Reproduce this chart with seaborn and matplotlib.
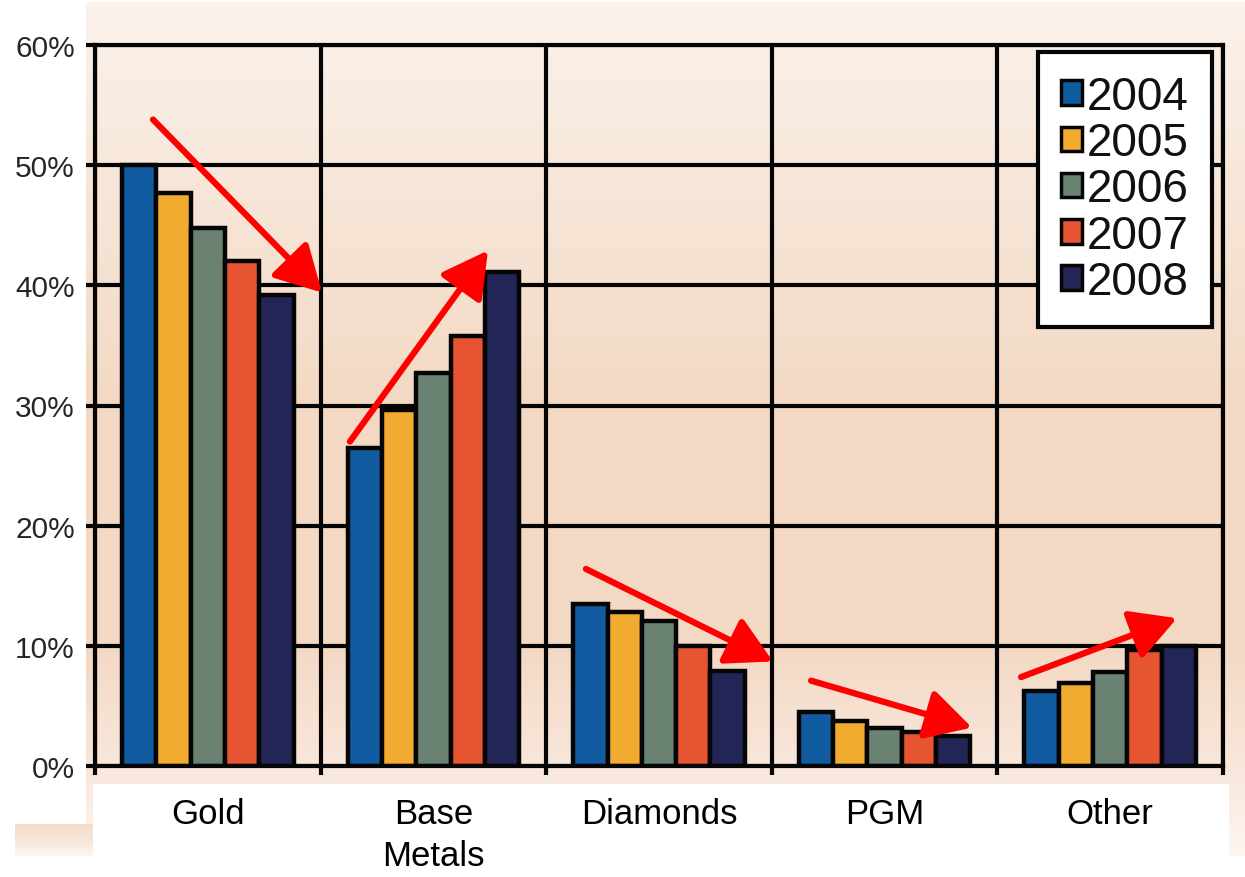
import numpy as np
import pandas as pd
import matplotlib
matplotlib.use("Agg")
import matplotlib.pyplot as plt
from matplotlib.colors import LinearSegmentedColormap
from matplotlib.patches import Rectangle
import seaborn as sns

# ---- data -------------------------------------------------------------
categories = ["Gold", "Base\nMetals", "Diamonds", "PGM", "Other"]
years = ["2004", "2005", "2006", "2007", "2008"]
share_2004 = [50.0, 26.5, 13.5, 4.5, 6.25]
share_2005 = [47.7, 29.6, 12.8, 3.75, 6.9]
share_2006 = [44.8, 32.7, 12.1, 3.2, 7.8]
share_2007 = [42.0, 35.8, 10.0, 2.8, 9.65]
share_2008 = [39.2, 41.1, 7.9, 2.5, 10.0]
y_ticks = [0, 10, 20, 30, 40, 50, 60]
y_tick_labels = ["0%", "10%", "20%", "30%", "40%", "50%", "60%"]

year_colors = ["#115BA0", "#F0AB30", "#6A8272", "#E65432", "#222556"]

# trend arrows per category: (x_start, y_start, x_end, y_end) in data units
trend_arrows = [
    (-0.243, 53.8, 0.506, 39.4),
    (0.630, 27.0, 1.242, 42.9),
    (1.676, 16.4, 2.505, 8.7),
    (2.674, 7.1, 3.387, 3.2),
    (3.605, 7.4, 4.296, 12.3),
]

series = [share_2004, share_2005, share_2006, share_2007, share_2008]
df = pd.DataFrame(
    [(c, y, v) for y, vals in zip(years, series) for c, v in zip(categories, vals)],
    columns=["category", "year", "share"],
)

# ---- figure ------------------------------------------------------------
sns.set_theme(style="white")
plt.rcParams["font.family"] = ["Liberation Sans", "DejaVu Sans"]

W, H = 1245, 878
fig = plt.figure(figsize=(W / 100, H / 100), dpi=100, facecolor="white")

# background panel with a soft peach vertical gradient
bg = fig.add_axes([0, 0, 1, 1], zorder=-5)
bg.set_xlim(0, W)
bg.set_ylim(H, 0)
bg.axis("off")
grad_cmap = LinearSegmentedColormap.from_list(
    "peach",
    [(0.0, "#FBF2EB"), (0.45, "#F3DAC5"), (0.75, "#F3D8C3"),
     (0.91, "#F9E8DD"), (1.0, "#FDF6F2")],
)
grad = np.linspace(0, 1, 256).reshape(-1, 1)
bg.imshow(grad, cmap=grad_cmap, aspect="auto", extent=(86, W, 857, 3),
          interpolation="bilinear")
bg.add_patch(Rectangle((93, 785), 1136, 100, facecolor="white", edgecolor="none"))
bg.imshow(grad[200:], cmap=grad_cmap, aspect="auto", extent=(15, 93, 857, 825),
          vmin=0, vmax=1, interpolation="bilinear")

ax = fig.add_axes([95 / W, 1 - 767 / H, (1223 - 95) / W, (767 - 46) / H])
ax.set_facecolor("none")
ax.set_axisbelow(True)

sns.barplot(
    data=df, x="category", y="share", hue="year", order=categories,
    hue_order=years, palette=year_colors, width=0.76, gap=0,
    edgecolor="#050505", linewidth=3.2, saturation=1, ax=ax, errorbar=None,
)

ax.set_xlim(-0.5, len(categories) - 0.5)
ax.set_ylim(0, 60)
ax.set_xlabel("")
ax.set_ylabel("")

# gridlines at category boundaries and at each 10%
lw = 3.0
ax.set_xticks(np.arange(len(categories)))
ax.set_xticklabels(categories, fontsize=25, linespacing=1.37)
ax.set_xticks(np.arange(-0.5, len(categories), 1.0), minor=True)
ax.set_yticks(y_ticks)
ax.set_yticklabels(y_tick_labels, fontsize=21.5)
ax.tick_params(axis="x", which="major", length=0, pad=22, colors="black")
ax.tick_params(axis="x", which="minor", length=6.5, width=lw, direction="out",
               color="#050505", bottom=True)
ax.tick_params(axis="y", which="major", length=6.5, width=lw, direction="out",
               color="#050505", pad=8, left=True)
ax.grid(True, axis="x", which="minor", color="#050505", linewidth=lw)
ax.grid(True, axis="y", which="major", color="#050505", linewidth=lw)
ax.grid(False, axis="x", which="major")
for s in ax.spines.values():
    s.set_visible(True)
    s.set_color("#050505")
    s.set_linewidth(lw)

# trend arrows
for x0, y0, x1, y1 in trend_arrows:
    ax.annotate(
        "", xy=(x1, y1), xytext=(x0, y0),
        arrowprops=dict(arrowstyle="-|>,head_length=1.0,head_width=0.55",
                        color="#FF0000", lw=4.5, shrinkA=0, shrinkB=0,
                        mutation_scale=28),
        zorder=10, annotation_clip=False,
    )

# legend
handles, labels = ax.get_legend_handles_labels()
leg = ax.legend(
    handles, labels, loc="upper right",
    bbox_to_anchor=(1212 / W, 1 - 53 / H), bbox_transform=fig.transFigure,
    frameon=True, fancybox=False, framealpha=1, facecolor="white",
    edgecolor="#050505", prop={"family": ["Liberation Sans"], "size": 33},
    handlelength=0.45, handleheight=0.45, handletextpad=0.12,
    labelspacing=0.05, borderpad=0.5, borderaxespad=0,
)
leg.get_frame().set_linewidth(3)
for t in leg.get_texts():
    t.set_color("#111111")
for h in leg.legend_handles:
    h.set_edgecolor("#050505")
    h.set_linewidth(2.5)

fig.savefig("out.png", dpi=100, facecolor="white")
